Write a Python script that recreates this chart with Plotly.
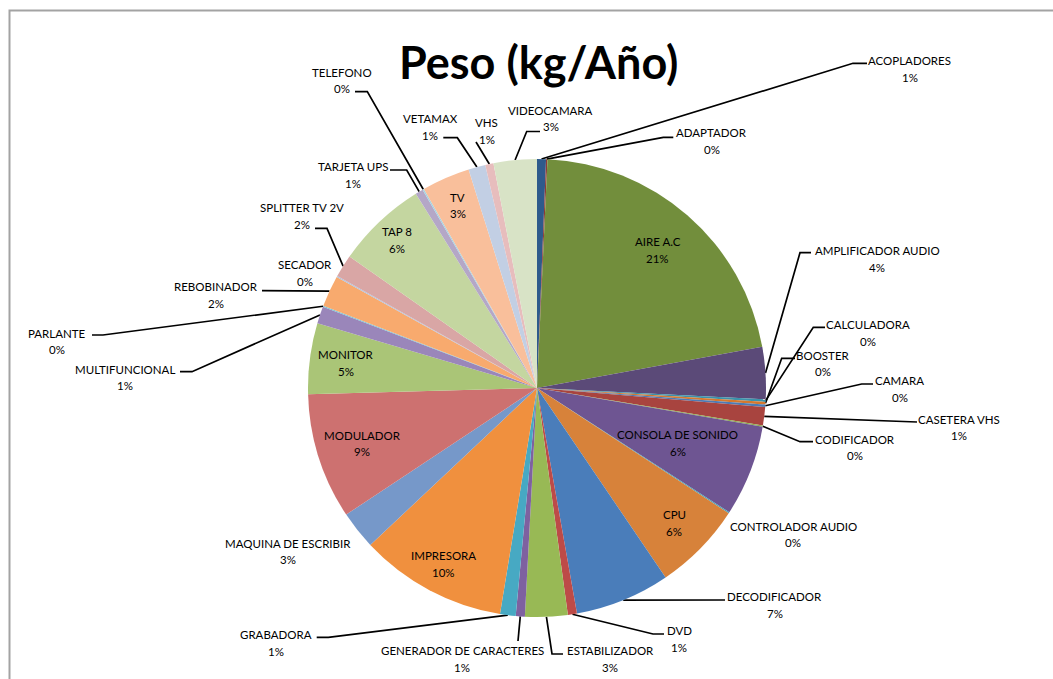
import math
import plotly.graph_objects as go

W, H = 1053, 679

# Residuos electrónicos por tipo de equipo
categorias = [
    "ACOPLADORES", "ADAPTADOR", "AIRE A.C", "AMPLIFICADOR AUDIO", "CALCULADORA",
    "BOOSTER", "CAMARA", "CASETERA VHS", "CODIFICADOR", "CONSOLA DE SONIDO",
    "CONTROLADOR AUDIO", "CPU", "DECODIFICADOR", "DVD", "ESTABILIZADOR",
    "GENERADOR DE CARACTERES", "GRABADORA", "IMPRESORA", "MAQUINA DE ESCRIBIR",
    "MODULADOR", "MONITOR", "MULTIFUNCIONAL", "PARLANTE", "REBOBINADOR", "SECADOR",
    "SPLITTER TV 2V", "TAP 8", "TARJETA UPS", "TELEFONO", "TV", "VETAMAX", "VHS",
    "VIDEOCAMARA",
]
peso_kg = [
    12.6, 2.0, 428, 73.4, 3.6,
    3.6, 3.6, 26, 1.6, 128.6,
    1.6, 126, 134, 12.8, 60,
    12.8, 22, 208, 54,
    178, 100, 24, 1.6, 44, 1.6,
    32, 128, 11, 2, 68, 24, 11.6,
    61,
]
colores = [
    "#2E5A8C", "#8C3A38", "#728E3C", "#5B4A78", "#3B93AB",
    "#D5782E", "#4D7BB4", "#A8443F", "#8FAE50", "#6E5592",
    "#46A0B8", "#D7823A", "#4A7DBA", "#BD4B48", "#98B955",
    "#7E61A0", "#47A9C3", "#F0903E", "#7698C9",
    "#CD7170", "#AAC577", "#9A86BA", "#7CC3D6", "#F8AA6E", "#AFC3E0",
    "#D9A6A5", "#C4D6A0", "#B4A7C7", "#A5D3E2", "#F9BF9B", "#C2CFE4", "#E7BDBD",
    "#D8E3C6",
]

# Geometría del pastel (píxeles)
CX, CY, R = 537, 388, 229

# Etiquetas dentro del sector: fracción del radio
etiquetas_internas = {
    "AIRE A.C": 0.80, "CONSOLA DE SONIDO": 0.66, "CPU": 0.84, "IMPRESORA": 0.87,
    "MODULADOR": 0.80, "MONITOR": 0.84, "TAP 8": 0.89, "TV": 0.87,
}

# Etiquetas externas: centro del bloque de texto, codo y extremo de la guía
etiquetas_externas = {
    "ACOPLADORES": ((909.7, 69), (853, 63.3), (867, 63.3)),
    "ADAPTADOR": ((711.5, 141), (663.3, 137.3), (673.3, 137.3)),
    "AMPLIFICADOR AUDIO": ((877, 259), (800, 252.7), (811, 252.7)),
    "CALCULADORA": ((868, 333), (813.3, 327.3), (825, 327.3)),
    "BOOSTER": ((823, 363.5), (781.7, 358.3), (795, 358.3)),
    "CAMARA": ((899.5, 389), (861.7, 384), (873, 384)),
    "CASETERA VHS": ((959.3, 427.5), (905, 422), (917, 422)),
    "CODIFICADOR": ((855, 447.3), (800, 441.7), (813, 441.7)),
    "CONTROLADOR AUDIO": ((793.3, 534.5), None, None),
    "DECODIFICADOR": ((774.7, 605), (712, 600), (725, 600)),
    "DVD": ((679.3, 639), (653, 634), (664, 634)),
    "ESTABILIZADOR": ((610, 659), (552, 654), (563, 654)),
    "GENERADOR DE CARACTERES": ((462, 659), (518, 641), (518, 641)),
    "GRABADORA": ((276.3, 643), (328.3, 637.3), (316.7, 637.3)),
    "MAQUINA DE ESCRIBIR": ((288, 551.7), None, None),
    "MULTIFUNCIONAL": ((125, 377.7), (192, 371.7), (180, 371.7)),
    "PARLANTE": ((57, 341.7), (103, 335), (92, 335)),
    "REBOBINADOR": ((216, 295), (273, 290.7), (262, 290.7)),
    "SECADOR": ((305, 273), None, None),
    "SPLITTER TV 2V": ((301.7, 216), (327, 228.3), (315, 228.3)),
    "TARJETA UPS": ((352.8, 175), (406.7, 170), (390, 170)),
    "TELEFONO": ((342, 80.7), (367.3, 91.7), (355, 91.7)),
    "VETAMAX": ((430.3, 127), (457.3, 137.7), (443.3, 137.7)),
    "VHS": ((486.5, 131), (476, 142), (476, 142)),
    "VIDEOCAMARA": ((550.8, 118.7), (526.7, 131.5), (540, 131.5)),
}

FUENTE = "Lato"
TAM = 11.5
SALTO = 8.2

total = sum(peso_kg)
porcentajes = [v / total * 100 for v in peso_kg]

fig = go.Figure()

fig.add_trace(go.Pie(
    labels=categorias,
    values=peso_kg,
    sort=False,
    direction="clockwise",
    rotation=0,
    marker=dict(colors=colores, line=dict(width=0)),
    textinfo="none",
    hoverinfo="label+percent",
    showlegend=False,
    domain=dict(x=[(CX - R) / W, (CX + R) / W],
                y=[1 - (CY + R) / H, 1 - (CY - R) / H]),
))

# Ángulo medio de cada sector, en sentido horario desde las 12
acumulado = 0.0
angulos = []
for v in peso_kg:
    angulos.append((acumulado + v / 2) / total * 2 * math.pi)
    acumulado += v

def punto(ang, r):
    return CX + r * math.sin(ang), CY - r * math.cos(ang)

anotaciones = []
lx, ly = [], []

def texto(nombre, pct, x, y):
    for txt, dy in ((nombre, -SALTO), (f"{round(pct)}%", SALTO)):
        anotaciones.append(dict(
            x=x, y=y + dy, xref="x", yref="y", text=txt, showarrow=False,
            xanchor="center", yanchor="middle",
            font=dict(family=FUENTE, size=TAM, color="#000000"),
        ))

for nombre, pct, ang in zip(categorias, porcentajes, angulos):
    if nombre in etiquetas_internas:
        x, y = punto(ang, R * etiquetas_internas[nombre])
        texto(nombre, pct, x, y)
    else:
        centro, codo, fin = etiquetas_externas[nombre]
        texto(nombre, pct, *centro)
        if codo is not None:
            x0, y0 = punto(ang, R)
            lx.extend([x0, codo[0], fin[0], None])
            ly.extend([y0, codo[1], fin[1], None])

fig.add_trace(go.Scatter(
    x=lx, y=ly, mode="lines", line=dict(color="#000000", width=1.7),
    hoverinfo="skip", showlegend=False,
))

anotaciones.append(dict(
    x=538, y=62, xref="x", yref="y", text="<b>Peso (kg/Año)</b>",
    showarrow=False, xanchor="center", yanchor="middle",
    font=dict(family=FUENTE, size=45, color="#000000"),
))

fig.update_layout(
    width=W, height=H,
    margin=dict(l=0, r=0, t=0, b=0),
    paper_bgcolor="white", plot_bgcolor="white",
    xaxis=dict(range=[0, W], visible=False, fixedrange=True, domain=[0, 1]),
    yaxis=dict(range=[H, 0], visible=False, fixedrange=True, domain=[0, 1]),
    annotations=anotaciones,
    shapes=[dict(type="rect", xref="x", yref="y", x0=9.5, y0=10.5, x1=W + 20, y1=H + 20,
                 line=dict(color="#A3A3A3", width=2), fillcolor="rgba(0,0,0,0)")],
    showlegend=False,
)

fig.write_html("out.html")
